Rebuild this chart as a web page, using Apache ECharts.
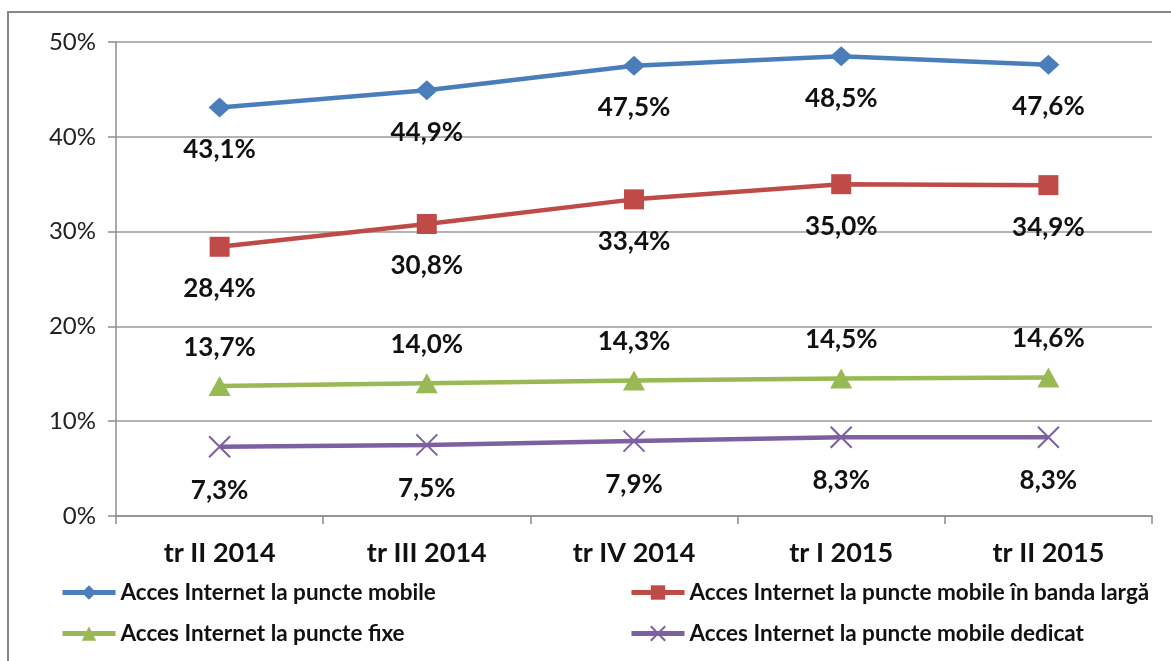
<!DOCTYPE html>
<html>
<head>
<meta charset="utf-8">
<script src="https://cdn.jsdelivr.net/npm/echarts@6/dist/echarts.min.js"></script>
<style>
  html, body { margin: 0; padding: 0; background: #fff; }
  #chart { width: 1171px; height: 661px; }
</style>
</head>
<body>
<div id="chart"></div>
<script>
var categories = ['tr II 2014', 'tr III 2014', 'tr IV 2014', 'tr I 2015', 'tr II 2015'];
var mobile = [43.1, 44.9, 47.5, 48.5, 47.6];
var broadband = [28.4, 30.8, 33.4, 35.0, 34.9];
var fixed = [13.7, 14.0, 14.3, 14.5, 14.6];
var dedicated = [7.3, 7.5, 7.9, 8.3, 8.3];
var yTicks = [0, 10, 20, 30, 40, 50];

var names = [
  'Acces Internet la puncte mobile',
  'Acces Internet la puncte mobile în banda largă',
  'Acces Internet la puncte fixe',
  'Acces Internet la puncte mobile dedicat'
];
var colors = ['#4A7EBB', '#BE4B48', '#98B954', '#7D60A0'];
var font = 'Lato, "Open Sans", sans-serif';

function fmt(p) {
  return p.value.toFixed(1).replace('.', ',') + '%';
}

function makeSeries(i, data, symbol, size, pos) {
  return {
    name: names[i],
    type: 'line',
    data: data,
    symbol: symbol,
    symbolSize: size,
    lineStyle: { color: colors[i], width: 4.5 },
    itemStyle: { color: colors[i], borderColor: colors[i], borderWidth: symbol.indexOf('path') === 0 ? 2 : 0 },
    label: {
      show: true,
      position: pos,
      distance: pos === 'top' ? 16 : 19,
      formatter: fmt,
      fontFamily: font,
      fontWeight: 'bold',
      fontSize: 26,
      color: '#111'
    },
    emphasis: { disabled: true },
    animation: false
  };
}

var legendText = { fontFamily: font, fontWeight: 'bold', fontSize: 22.5, color: '#111' };

var chart = echarts.init(document.getElementById('chart'));
chart.setOption({
  animation: false,
  graphic: [{
    type: 'rect',
    shape: { x: 8, y: 12, width: 1300, height: 800 },
    style: { fill: 'none', stroke: '#878787', lineWidth: 2 },
    silent: true
  }],
  grid: { left: 116, right: 19, top: 42, bottom: 145 },
  legend: [{
    data: [names[0], names[2]],
    orient: 'vertical',
    left: 55,
    top: 576,
    itemWidth: 53,
    itemHeight: 18,
    itemGap: 18,
    lineStyle: { width: 5 },
    textStyle: legendText
  }, {
    data: [names[1], names[3]],
    orient: 'vertical',
    left: 624,
    top: 576,
    itemWidth: 53,
    itemHeight: 18,
    itemGap: 18,
    lineStyle: { width: 5 },
    textStyle: legendText
  }],
  xAxis: {
    type: 'category',
    data: categories,
    boundaryGap: true,
    axisLine: { lineStyle: { color: '#8c8c8c', width: 1.5 } },
    axisTick: { show: true, length: 8, lineStyle: { color: '#8c8c8c', width: 1.5 } },
    axisLabel: { margin: 24, fontFamily: font, fontWeight: 'bold', fontSize: 27, color: '#111' }
  },
  yAxis: {
    type: 'value',
    min: yTicks[0],
    max: yTicks[yTicks.length - 1],
    interval: 10,
    axisLine: { show: true, lineStyle: { color: '#8c8c8c', width: 1.5 } },
    axisTick: { show: true, length: 8, lineStyle: { color: '#8c8c8c', width: 1.5 } },
    splitLine: { lineStyle: { color: '#9a9a9a', width: 1.5 } },
    axisLabel: { margin: 20, formatter: '{value}%', fontFamily: font, fontSize: 24, color: '#222' }
  },
  series: [
    makeSeries(0, mobile, 'diamond', [22, 20], 'bottom'),
    makeSeries(1, broadband, 'rect', 20, 'bottom'),
    makeSeries(2, fixed, 'triangle', [22, 20], 'top'),
    makeSeries(3, dedicated, 'path://M0,0L10,10M10,0L0,10', 21, 'bottom')
  ]
});
</script>
</body>
</html>
